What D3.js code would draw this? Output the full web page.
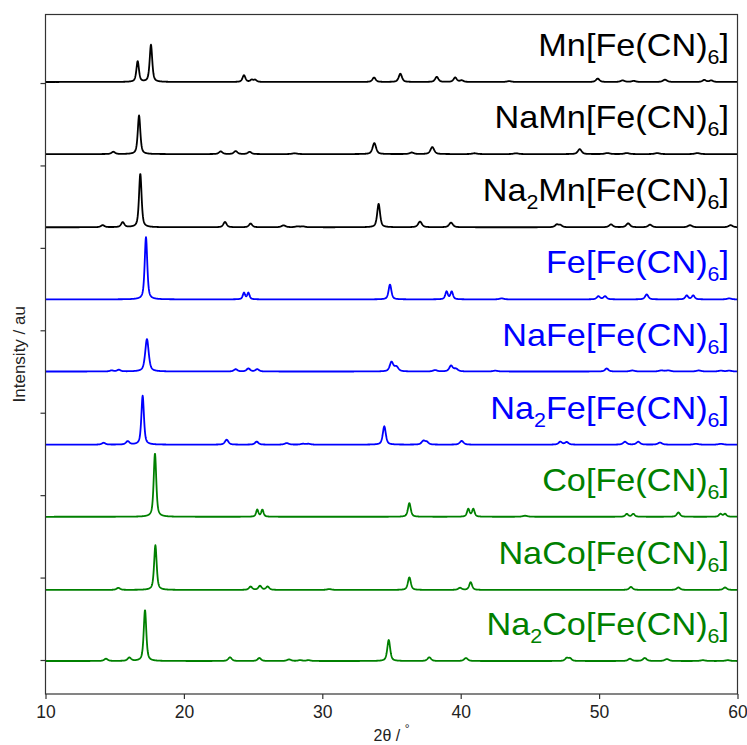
<!DOCTYPE html>
<html>
<head>
<meta charset="utf-8">
<script src="https://cdn.jsdelivr.net/npm/d3@7"></script>
<style>
  html, body { margin: 0; padding: 0; background: #fff; }
  svg { display: block; }
</style>
</head>
<body>
<svg id="chart" width="747" height="745"></svg>
<script>
// ---------------- data ----------------
const xTicks = [10, 20, 30, 40, 50, 60];
const yTicks = [0, 80, 160, 240, 320, 400, 480, 560];

// compounds, top to bottom
const compounds = [
  "Mn[Fe(CN)6]", "NaMn[Fe(CN)6]", "Na2Mn[Fe(CN)6]",
  "Fe[Fe(CN)6]", "NaFe[Fe(CN)6]", "Na2Fe[Fe(CN)6]",
  "Co[Fe(CN)6]", "NaCo[Fe(CN)6]", "Na2Co[Fe(CN)6]"
];
// vertical offset of each pattern baseline (au)
const offsets = [561, 491, 420, 350, 280, 209, 139, 68, -1];

// reflections of each pattern: [2theta, intensity (au), FWHM (deg)]
const peaksMn = [[16.66,20,0.22],[17.62,36,0.22],[24.34,6.5,0.25],[24.9,2,0.25],[25.15,2,0.25],
  [33.74,4.3,0.28],[35.64,8,0.28],[38.27,5,0.28],[39.6,4.3,0.28],[40.07,1.5,0.3],[43.5,0.8,0.4],
  [49.9,3.3,0.3],[51.7,1.5,0.35],[52.5,1,0.35],[54.76,2.2,0.35],[57.6,2,0.3],[58.1,1.5,0.3]];
const peaksNaMn = [[14.9,2.2,0.3],[16.76,37.5,0.22],[22.66,2.6,0.3],[23.74,2.9,0.3],[24.75,2.2,0.3],
  [28.0,0.8,0.4],[33.76,10.7,0.3],[36.46,1.5,0.35],[37.95,6.8,0.32],[41.0,0.8,0.4],[44.0,0.8,0.4],
  [48.6,4.8,0.32],[50.6,1,0.4],[52.0,1,0.4],[54.2,1,0.4],[57.1,1,0.4]];
const peaksNa2Mn = [[14.13,2,0.3],[15.58,4.8,0.28],[16.85,52,0.22],[22.97,5.1,0.28],[24.82,3.6,0.28],
  [27.2,1.8,0.35],[28.2,0.8,0.35],[28.6,0.8,0.35],[34.07,22.7,0.25],[37.06,5.5,0.32],[39.3,4.5,0.32],
  [46.94,2.5,0.3],[47.2,2,0.3],[50.86,2.8,0.32],[52.1,3.8,0.32],[53.68,2.5,0.32],[56.57,2,0.35],[59.5,2,0.35]];
const peaksFe = [[17.26,60.5,0.22],[24.34,6.3,0.2],[24.66,6.3,0.2],[34.89,14.5,0.24],[38.98,7.5,0.22],
  [39.35,7.5,0.22],[42.96,1,0.35],[49.95,3,0.28],[50.43,3,0.28],[53.44,4.8,0.28],[56.33,3.8,0.25],
  [56.8,3.8,0.25],[59.4,1,0.35]];
const peaksNaFe = [[14.78,1,0.3],[15.3,1.6,0.3],[17.33,31.5,0.3],[23.74,2.2,0.3],[24.66,2.9,0.3],
  [25.3,2.2,0.3],[35.0,9,0.3],[35.35,4.5,0.35],[38.15,1.3,0.35],[39.3,5.5,0.3],[39.65,2.5,0.35],
  [42.5,0.8,0.4],[50.55,2.9,0.3],[52.4,1,0.4],[54.5,1,0.4],[55.0,1,0.4],[57.2,1,0.4],[58.8,0.8,0.4],[59.4,0.8,0.4]];
const peaksNa2Fe = [[14.2,1.8,0.3],[15.94,3.2,0.3],[17.02,47.5,0.22],[23.09,4.8,0.3],[25.26,2.9,0.3],
  [27.43,1.5,0.35],[28.6,0.8,0.35],[29.0,0.8,0.35],[34.48,17.8,0.26],[37.3,3.5,0.3],[37.55,2.5,0.3],
  [40.07,3.6,0.32],[47.2,2.8,0.3],[47.66,2.5,0.3],[51.87,2.8,0.32],[52.83,2.8,0.32],[54.4,2,0.35],
  [57.0,0.8,0.4],[58.8,0.8,0.4]];
const peaksCo = [[17.91,61.5,0.22],[25.3,6.8,0.2],[25.67,6.8,0.2],[36.29,13.3,0.24],[40.55,7.5,0.22],
  [40.91,7.5,0.22],[44.65,1,0.4],[52.0,2.8,0.25],[52.47,2.8,0.25],[55.73,4.2,0.28],[58.77,2.8,0.25],[59.1,2.8,0.25]];
const peaksNaCo = [[15.26,2,0.3],[17.94,43.4,0.22],[24.82,3.2,0.28],[25.5,3.9,0.28],[26.05,3.2,0.28],
  [30.5,0.8,0.4],[36.29,12.3,0.25],[39.95,2,0.3],[40.72,7.5,0.25],[52.3,2.9,0.3],[55.73,2.4,0.3],[59.1,2.4,0.3]];
const peaksNa2Co = [[14.37,2.2,0.3],[16.06,3.2,0.3],[17.19,49.5,0.22],[23.33,3.6,0.3],[25.45,2.9,0.3],
  [27.6,1.5,0.35],[28.4,0.8,0.35],[29.0,0.8,0.35],[34.8,20.4,0.25],[37.73,3.6,0.3],[40.38,2.9,0.32],
  [47.66,2.8,0.28],[47.9,2.5,0.28],[52.23,2.2,0.32],[53.3,2.9,0.32],[54.9,1.9,0.35],[57.5,0.8,0.4],[59.3,0.8,0.4]];

const peakLists = [peaksMn, peaksNaMn, peaksNa2Mn, peaksFe, peaksNaFe, peaksNa2Fe, peaksCo, peaksNaCo, peaksNa2Co];

// ---------------- styles ----------------
const colors = ["#000000","#000000","#000000","#0000ff","#0000ff","#0000ff","#008000","#008000","#008000"];
const FONT = "'Liberation Sans', Arial, Helvetica, sans-serif";

// ---------------- layout ----------------
const svg = d3.select("#chart");
svg.append("rect").attr("width", 747).attr("height", 745).attr("fill", "#fff");

const mLeft = 45.5, mRight = 737.5, mTop = 14.5, mBottom = 694;
const x = d3.scaleLinear().domain([10, 60]).range([mLeft, mRight]);
const y = d3.scaleLinear().domain([-33, 626.5]).range([mBottom, mTop]);

// peak profile (pseudo-Voigt) summed over reflections
function profile(peaks, t) {
  let s = 0;
  for (const [p, h, w] of peaks) {
    const d = (t - p) / w;
    const L = 1 / (1 + 4 * d * d);
    const G = Math.exp(-4 * Math.LN2 * d * d);
    s += h * (0.6 * L + 0.4 * G);
  }
  return s;
}
const grid = d3.range(10, 60.0001, 0.02);

const line = d3.line().x(d => x(d[0])).y(d => y(d[1]));

const plot = svg.append("g");
plot.append("clipPath").attr("id", "clip").append("rect")
  .attr("x", mLeft).attr("y", mTop).attr("width", mRight - mLeft).attr("height", mBottom - mTop);

peakLists.forEach((peaks, i) => {
  const pts = grid.map(t => [t, offsets[i] + profile(peaks, t)]);
  plot.append("path")
    .attr("d", line(pts))
    .attr("fill", "none")
    .attr("stroke", colors[i])
    .attr("stroke-width", 1.8)
    .attr("stroke-linejoin", "round")
    .attr("clip-path", "url(#clip)");
});

// labels with subscripts
compounds.forEach((name, i) => {
  const g = svg.append("g")
    .attr("transform", `translate(729,${y(offsets[i]) - 26}) scale(1.07,1)`);
  const t = g.append("text")
    .attr("x", 0).attr("y", 0)
    .attr("text-anchor", "end")
    .attr("font-family", FONT)
    .attr("font-size", 32)
    .attr("fill", colors[i]);
  const parts = name.match(/\d+|\D+/g);
  let shifted = false;
  parts.forEach(p => {
    if (/\d/.test(p)) {
      t.append("tspan").attr("font-size", 20).attr("dy", 8).text(p);
      shifted = true;
    } else {
      const ts = t.append("tspan").text(p);
      if (shifted) { ts.attr("dy", -8); shifted = false; }
    }
  });
});

// axes
const axisColor = "#333";
const xAxis = d3.axisBottom(x).tickValues(xTicks).tickSize(5).tickPadding(7).tickFormat(d3.format("d"));
const gx = svg.append("g").attr("transform", `translate(0,${mBottom})`).call(xAxis);
gx.select(".domain").remove();
gx.selectAll(".tick line").attr("stroke", axisColor).attr("stroke-width", 1.2);
gx.selectAll(".tick text").attr("font-family", FONT).attr("font-size", 17.5).attr("fill", "#222");

const yAxis = d3.axisLeft(y).tickValues(yTicks).tickSize(5).tickFormat("");
const gy = svg.append("g").attr("transform", `translate(${mLeft},0)`).call(yAxis);
gy.select(".domain").remove();
gy.selectAll(".tick line").attr("stroke", axisColor).attr("stroke-width", 1.2);

// frame
svg.append("rect")
  .attr("x", mLeft).attr("y", mTop).attr("width", mRight - mLeft).attr("height", mBottom - mTop)
  .attr("fill", "none").attr("stroke", axisColor).attr("stroke-width", 1.2);

// axis titles
const xt = svg.append("text")
  .attr("x", (mLeft + mRight) / 2).attr("y", 741)
  .attr("text-anchor", "middle")
  .attr("font-family", FONT).attr("font-size", 16).attr("fill", "#222");
xt.append("tspan").text("2θ / ");
xt.append("tspan").attr("font-size", 12).attr("dy", -8).text("°");

svg.append("text")
  .attr("transform", `translate(25,${(mTop + mBottom) / 2}) rotate(-90)`)
  .attr("text-anchor", "middle")
  .attr("font-family", FONT).attr("font-size", 17).attr("fill", "#222")
  .text("Intensity / au");
</script>
</body>
</html>
